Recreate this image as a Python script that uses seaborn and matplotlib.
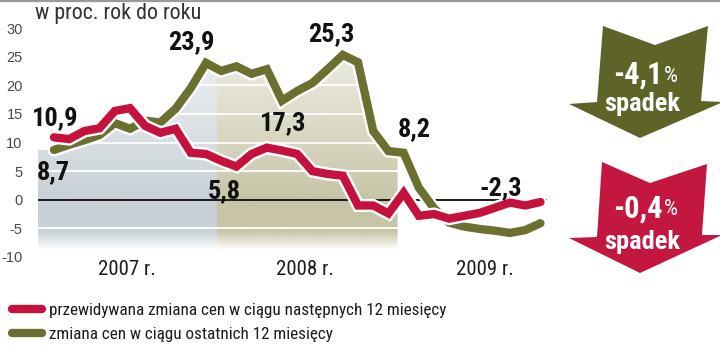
import numpy as np
import pandas as pd
import matplotlib
matplotlib.use("Agg")
import matplotlib.pyplot as plt
import matplotlib.patheffects as pe
from matplotlib.patches import Polygon
from matplotlib.lines import Line2D
from matplotlib.colors import to_rgb
import seaborn as sns

# Monthly readings, Jan 2007 - Sep 2009 (percent, year on year)
months = pd.date_range("2007-01-01", periods=33, freq="MS")
expected_change = [10.9, 10.6, 12.0, 12.5, 15.5, 16.0, 12.9, 11.7, 12.4, 8.2,
                   8.0, 6.8, 5.8, 8.0, 9.1, 8.6, 8.0, 5.0, 4.5, 4.2,
                   -1.0, -1.0, -2.4, 1.2, -2.8, -2.5, -3.3, -2.8, -2.3, -1.4,
                   -0.5, -1.0, -0.4]
past_change = [8.7, 9.6, 10.4, 11.3, 13.4, 12.4, 13.8, 13.5, 15.9, 19.5,
               23.9, 22.5, 23.3, 22.0, 22.8, 17.3, 19.0, 20.4, 22.8, 25.3,
               24.0, 12.0, 8.5, 8.2, 2.1, -1.5, -4.0, -4.7, -5.1, -5.4,
               -5.8, -5.3, -4.1]

series_labels = ["przewidywana zmiana cen w ciągu następnych 12 miesięcy",
                 "zmiana cen w ciągu ostatnich 12 miesięcy"]
year_labels = ["2007 r.", "2008 r.", "2009 r."]
y_ticks = [30, 25, 20, 15, 10, 5, 0, -5, -10]
unit_label = "w proc. rok do roku"
arrow_word = "spadek"

RED = "#c5123d"
GREEN = "#6b7030"
RED_ARROW = "#c3173f"
GREEN_ARROW = "#5e6427"
TEXT = "#1c1c1c"

sns.set_theme(style="white")
plt.rcParams["font.family"] = ["Liberation Sans", "DejaVu Sans"]
COND = ["Roboto Condensed", "Archivo Narrow", "Asap Condensed", "Liberation Sans",
        "DejaVu Sans"]
PLAIN = ["Liberation Sans", "DejaVu Sans"]

W, H = 720, 347
fig = plt.figure(figsize=(W / 100, H / 100), dpi=100)
fig.patch.set_facecolor("white")


def fx(px):
    return px / W


def fy(py):
    return 1 - py / H


ax = fig.add_axes([fx(38), fy(257), 509 / W, 229 / H])
ax.set_facecolor("white")

df = pd.DataFrame({"idx": np.arange(len(months)), "month": months,
                   "expected": expected_change, "past": past_change})

xlim = (-1.05, 32.43)
ylim = (-10, 30)

# shaded backdrop under the olive line, tinted per year, fading out at the bottom
nx, ny = 700, 500
xs = np.linspace(xlim[0], xlim[1], nx)
ys = np.linspace(ylim[1], ylim[0], ny)
alpha_y = np.interp(ys, [-8.8, -5.5, 0, 12, 27], [0.0, 0.72, 0.72, 0.48, 0.22])
band07 = xs < 10.7
band08 = (xs >= 10.7) & (xs < 22.6)
rgba = np.zeros((ny, nx, 4))
rgba[:, band07, :3] = to_rgb("#b3bfc6")
rgba[:, band08, :3] = to_rgb("#b1ae83")
rgba[:, :, 3] = alpha_y[:, None] * (band07 | band08)[None, :]
im = ax.imshow(rgba, extent=(xlim[0], xlim[1], ylim[0], ylim[1]), origin="upper",
               aspect="auto", interpolation="bilinear", zorder=1)
fill_x = np.concatenate([[xlim[0] - 0.1], df["idx"].to_numpy()])
fill_y = np.concatenate([[past_change[0]], df["past"].to_numpy()])
shape = ax.fill_between(fill_x, fill_y, ylim[0] - 1, facecolor="none", edgecolor="none")
im.set_clip_path(shape.get_paths()[0], ax.transData)

# gridlines: white inside the shading, black at zero
for t in y_ticks:
    if t == 0:
        ax.axhline(t, color="#1a1a1a", lw=1.4, zorder=3)
    elif t > -10:
        ax.axhline(t, color="white", lw=1.3, zorder=2)

halo = [pe.Stroke(linewidth=9.4, foreground="white"), pe.Normal()]
sns.lineplot(data=df, x="idx", y="past", color=GREEN, lw=6.0, ax=ax, zorder=4,
             path_effects=halo, solid_joinstyle="miter", solid_capstyle="round",
             clip_on=False)
sns.lineplot(data=df, x="idx", y="expected", color=RED, lw=6.0, ax=ax, zorder=5,
             path_effects=halo, solid_joinstyle="miter", solid_capstyle="round",
             clip_on=False)

ax.set_xlim(*xlim)
ax.set_ylim(*ylim)
ax.set_xlabel("")
ax.set_ylabel("")
ax.set_yticks(y_ticks)
ax.set_yticklabels([str(t) for t in y_ticks], color="#4a4a4a", fontsize=10.5,
                   family=PLAIN)
ax.set_xticks([4.8, 16.5, 28.35])
ax.set_xticklabels(year_labels, color=TEXT, fontsize=15, family=COND)
ax.tick_params(axis="y", length=0, pad=11)
ax.tick_params(axis="x", length=0, pad=2)
ax.grid(False)
sns.despine(ax=ax, left=True, bottom=True)
for s in ax.spines.values():
    s.set_visible(False)


def fmt(v):
    return f"{v:.1f}".replace(".", ",")


# value callouts (series, month index, offset in px)
callouts = [
    ("expected", 0, 1, 19),
    ("past", 0, -1, -22),
    ("past", 10, -15, 21),
    ("past", 19, -12, 21),
    ("past", 15, 1, -22),
    ("expected", 12, -12, -25),
    ("past", 23, 11, 24),
    ("expected", 28, 21, 25),
]
for col, i, dx, dy in callouts:
    v = df[col].iloc[i]
    ax.annotate(fmt(v), (df["idx"].iloc[i], v), xytext=(dx * 0.72, dy * 0.72),
                textcoords="offset points", ha="center", va="center",
                fontsize=19, fontweight="bold", color="#111111", family=COND,
                zorder=6, annotation_clip=False)

fig.text(fx(35), fy(13), unit_label, ha="left", va="center", fontsize=15.8,
         color="#333333", family=COND)

# thin rule across the top edge
fig.add_artist(Line2D([0, 1], [fy(0.8), fy(0.8)], color="#9a9a9a", lw=1.6,
                      transform=fig.transFigure))

# down arrows with the latest readings
arrow_green = [(603, 26), (655, 45), (708, 26), (701, 101), (723, 102),
               (640, 138), (569, 104), (597, 102)]
arrow_red = [(602, 162), (650, 183), (707, 164), (702, 235), (722, 235),
             (640, 273), (569, 238), (597, 237)]
for pts, color, value, y_num, y_word in [
        (arrow_green, GREEN_ARROW, past_change[-1], 75, 104),
        (arrow_red, RED_ARROW, expected_change[-1], 209, 242)]:
    fig.add_artist(Polygon([(fx(x), fy(y)) for x, y in pts], closed=True,
                           transform=fig.transFigure, facecolor=color,
                           edgecolor="none"))
    fig.text(fx(663), fy(y_num), fmt(value), ha="right", va="center",
             fontsize=22, fontweight="bold", color="white", family=COND)
    fig.text(fx(664), fy(y_num + 1), "%", ha="left", va="center",
             fontsize=16, color="white", family=COND)
    fig.text(fx(642), fy(y_word), arrow_word, ha="center", va="center",
             fontsize=19, fontweight="bold", color="white", family=COND)

# legend
handles = [Line2D([], [], color=RED, lw=6.0, solid_capstyle="round"),
           Line2D([], [], color=GREEN, lw=6.0, solid_capstyle="round")]
fig.legend(handles, series_labels, loc="upper left",
           bbox_to_anchor=(fx(12), fy(303)), frameon=False,
           handlelength=1.75, handletextpad=0.42, labelspacing=0.55,
           borderaxespad=0, borderpad=0, prop={"family": COND, "size": 12.3},
           labelcolor=TEXT)

fig.savefig("out.png", dpi=100, facecolor="white")
